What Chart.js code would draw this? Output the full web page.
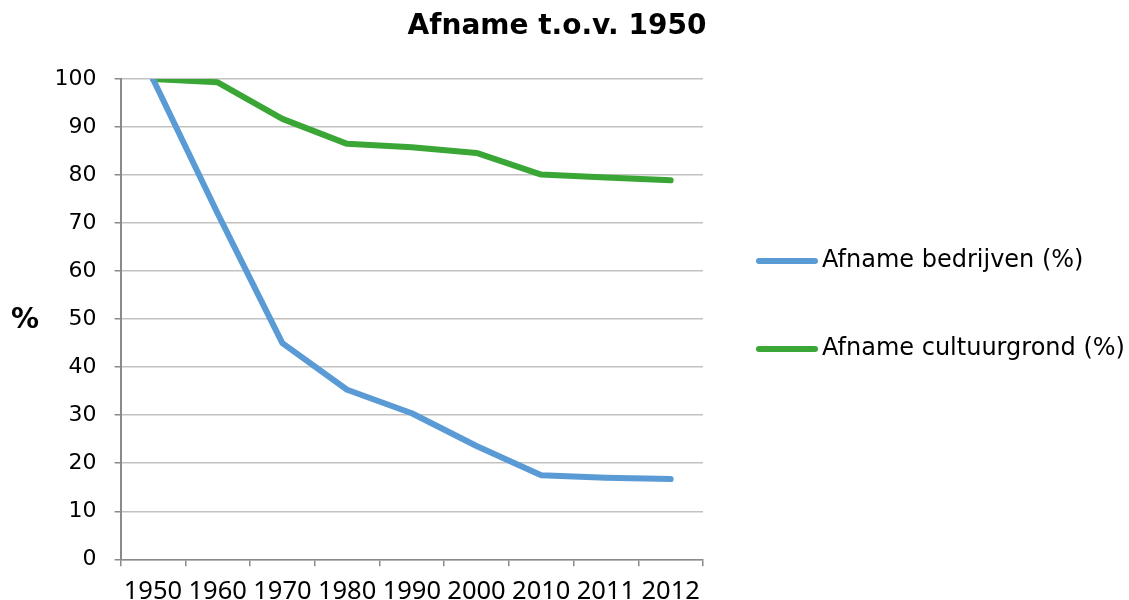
<!DOCTYPE html>
<html>
<head>
<meta charset="utf-8">
<script src="https://cdn.jsdelivr.net/npm/chart.js@4/dist/chart.umd.min.js"></script>
<style>
  html, body { margin: 0; padding: 0; background: #fff; }
  #wrap { width: 1129px; height: 600px; position: relative; }
</style>
</head>
<body>
<div id="wrap"><canvas id="chart"></canvas></div>
<script>
const jaren = ["1950", "1960", "1970", "1980", "1990", "2000", "2010", "2011", "2012"];
const bedrijven = [100, 72, 45, 35.3, 30.4, 23.6, 17.5, 17, 16.7];
const cultuurgrond = [100, 99.3, 91.7, 86.5, 85.8, 84.6, 80.1, 79.5, 78.9];
const yTicks = [0, 10, 20, 30, 40, 50, 60, 70, 80, 90, 100];

const blauw = "#5b9bd5";
const groen = "#3aa636";

// title, "%" label and legend drawn on top of the chart
const extras = {
  id: "extras",
  afterDraw(chart) {
    const c = chart.ctx;
    const area = chart.chartArea;
    c.save();
    c.fillStyle = "#000";
    c.textBaseline = "middle";

    c.font = "bold 28px 'DejaVu Sans'";
    c.textAlign = "center";
    c.fillText("Afname t.o.v. 1950", 557, 27);

    c.font = "bold 28px 'DejaVu Sans'";
    c.textAlign = "left";
    c.fillText("%", 11, (area.top + area.bottom) / 2 + 2);

    c.font = "24px 'DejaVu Sans'";
    const rows = [261, 349];
    chart.data.datasets.forEach((ds, i) => {
      const y = rows[i];
      c.strokeStyle = ds.borderColor;
      c.lineWidth = 6;
      c.lineCap = "round";
      c.beginPath();
      c.moveTo(759, y);
      c.lineTo(815, y);
      c.stroke();
      c.fillText(ds.label, 822, y);
    });
    c.restore();
  }
};

new Chart(document.getElementById("chart"), {
  type: "line",
  data: {
    labels: jaren,
    datasets: [
      {
        label: "Afname bedrijven (%)",
        data: bedrijven,
        borderColor: blauw,
        backgroundColor: blauw,
        borderWidth: 6,
        pointRadius: 0,
        tension: 0,
        borderCapStyle: "round",
        borderJoinStyle: "round",
      },
      {
        label: "Afname cultuurgrond (%)",
        data: cultuurgrond,
        borderColor: groen,
        backgroundColor: groen,
        borderWidth: 6,
        pointRadius: 0,
        tension: 0,
        borderCapStyle: "round",
        borderJoinStyle: "round",
      },
    ],
  },
  options: {
    responsive: true,
    maintainAspectRatio: false,
    animation: false,
    layout: { padding: { top: 79, right: 426, bottom: 0, left: 0 } },
    plugins: {
      legend: { display: false },
      title: { display: false },
      tooltip: { enabled: false },
    },
    scales: {
      x: {
        offset: true,
        afterFit: (s) => { s.height = 40.7; },
        grid: {
          offset: true,
          drawOnChartArea: false,
          tickLength: 7,
          tickColor: "#8a8a8a",
          lineWidth: 1.5,
        },
        border: { color: "#8a8a8a", width: 1.5 },
        ticks: {
          color: "#000",
          padding: 10,
          maxRotation: 0,
          autoSkip: false,
          font: { family: "'Noto Sans'", size: 25.5 },
        },
      },
      y: {
        min: 0,
        max: 100,
        afterFit: (s) => { s.width = 120.6; },
        afterBuildTicks: (s) => { s.ticks = yTicks.map((v) => ({ value: v })); },
        grid: {
          color: "#c2c2c2",
          lineWidth: 1.5,
          tickLength: 6,
          tickColor: "#8a8a8a",
        },
        border: { color: "#8a8a8a", width: 2 },
        ticks: {
          color: "#000",
          padding: 18,
          font: { family: "'DejaVu Sans'", size: 22 },
        },
      },
    },
  },
  plugins: [extras],
});
</script>
</body>
</html>
